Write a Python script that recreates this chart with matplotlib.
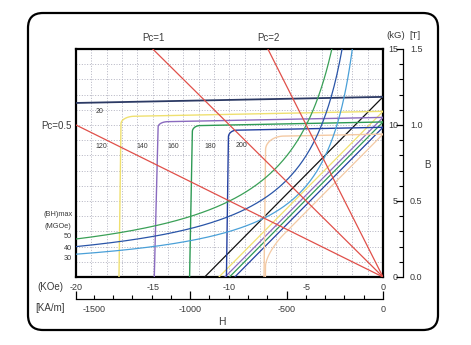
import numpy as np
import matplotlib
matplotlib.use('Agg')
import matplotlib.pyplot as plt
from matplotlib.patches import FancyBboxPatch
from matplotlib.transforms import IdentityTransform, blended_transform_factory
from matplotlib.ticker import MultipleLocator

plt.rcParams['font.family'] = ['Liberation Sans', 'DejaVu Sans']

# ---------------- data ----------------
temp_labels = ['20', '120', '140', '160', '180', '200']
temp_colors = ['#2c3a64', '#efe070', '#8a6bbf', '#2e9a55', '#2440a0', '#f4caa4']
normal_colors = ['#111111', '#efe070', '#8a6bbf', '#2e9a55', '#2440a0', '#f4caa4']
Jr = [11.85, 10.9, 10.5, 10.2, 9.85, 9.4]          # kG at H = 0
Hcj = [-30.0, -17.2, -14.9, -12.6, -10.2, -7.75]   # kOe
knee_tilt = [0.0, 0.13, 0.25, 0.18, 0.13, 0.1]
knee_rH = [0.0, 0.9, 0.65, 0.5, 0.55, 1.2]
knee_rB = [0.0, 0.5, 0.35, 0.4, 0.45, 0.9]
recoil_slope = 0.02
temp_label_pos = [(-18.44, 10.92), (-18.37, 8.6), (-15.7, 8.6),
                  (-13.68, 8.6), (-11.27, 8.6), (-9.19, 8.65)]

bhmax_values = [50, 40, 30]
bhmax_colors = ['#3aa057', '#2a55a8', '#4aa0d8']

pc_values = [0.5, 1, 2]
pc_labels = ['Pc=0.5', 'Pc=1', 'Pc=2']

koe_ticks = [-20, -15, -10, -5, 0]
kam_ticks = [-1500, -1000, -500, 0]
kg_ticks = [0, 5, 10, 15]
tesla_labels = ['0.0', '0.5', '1.0', '1.5']
KAM_PER_KOE = 79.577

W, Hpx = 471, 345
fig = plt.figure(figsize=(W / 100, Hpx / 100), dpi=100)

x0, x1, y0, y1 = 76, 383, 49, 277
ax = fig.add_axes([x0 / W, 1 - y1 / Hpx, (x1 - x0) / W, (y1 - y0) / Hpx])
ax.set_xlim(-20, 0)
ax.set_ylim(0, 15)

txt = '#3a3a3a'

# grid
ax.xaxis.set_minor_locator(MultipleLocator(1))
ax.yaxis.set_minor_locator(MultipleLocator(1))
ax.set_xticks(koe_ticks)
ax.set_xticklabels([str(v) for v in koe_ticks], fontsize=6.5, color=txt)
ax.set_yticks([])
ax.yaxis.set_minor_locator(MultipleLocator(1))
ax.tick_params(which='both', length=0)
ax.tick_params(axis='x', pad=4)
ax.grid(which='both', color='#a8a8b8', linestyle=(0, (1.2, 2.0)), linewidth=0.6)
ax.set_axisbelow(True)
for s in ax.spines.values():
    s.set_linewidth(1.6)
    s.set_color('black')


def intrinsic(jr, hcj, tilt, rh, rb, s):
    if hcj < -20:
        H = np.linspace(-20, 0, 50)
        return H, jr + s * H
    hk = hcj + tilt
    cx = hk + rh
    L = jr + s * cx
    cy = L - rb
    th = np.linspace(np.pi, np.pi / 2, 40)
    Hc = cx + rh * np.cos(th)
    Jc = cy + rb * np.sin(th)
    Hh = np.linspace(cx, 0, 60)[1:]
    Jh = jr + s * Hh
    return np.concatenate([[hcj], Hc, Hh]), np.concatenate([[0], Jc, Jh])


for i in range(len(temp_labels)):
    H, J = intrinsic(Jr[i], Hcj[i], knee_tilt[i], knee_rH[i], knee_rB[i], recoil_slope)
    B = J + H
    ax.plot(H, B, color=normal_colors[i], lw=0.9, zorder=3)
    ax.plot(H, J, color=temp_colors[i], lw=1.3 if i == 0 else 1.0, zorder=3)
    ax.text(temp_label_pos[i][0], temp_label_pos[i][1], temp_labels[i],
            fontsize=5, color=txt, ha='center', va='center', zorder=5)

# (BH)max hyperbolas
for bh, c in zip(bhmax_values, bhmax_colors):
    Hh = np.linspace(-20, -bh / 15.0, 300)
    ax.plot(Hh, bh / (-Hh), color=c, lw=0.9, zorder=3)

# permeance lines
for pc in pc_values:
    Hl = np.array([-20.0, 0.0])
    ax.plot(Hl, -pc * Hl, color='#e0504a', lw=0.9, zorder=4)

# kG labels left of the right spine
spine_x = (403 - x0) / (x1 - x0)
bt = blended_transform_factory(ax.transAxes, ax.transData)
for v in kg_ticks:
    ax.text((398 - x0) / (x1 - x0), v, str(v), transform=bt, fontsize=6.5,
            color=txt, ha='right', va='center')

# right axis (T)
ax2 = ax.twinx()
ax2.set_ylim(0, 15)
for k in ['top', 'bottom', 'left']:
    ax2.spines[k].set_visible(False)
ax2.spines['right'].set_position(('axes', spine_x))
ax2.spines['right'].set_linewidth(0.9)
ax2.set_yticks(kg_ticks)
ax2.set_yticklabels(tesla_labels, fontsize=6.5, color=txt)
ax2.yaxis.set_minor_locator(MultipleLocator(1))
ax2.tick_params(axis='y', which='major', direction='in', length=5, width=0.9, pad=5)
ax2.tick_params(axis='y', which='minor', direction='in', length=3, width=0.8)

# bottom ruler (kA/m)
ruler_y = 299
ax3 = fig.add_axes([x0 / W, 1 - ruler_y / Hpx, (x1 - x0) / W, 0.0001])
ax3.set_xlim(-20 * KAM_PER_KOE, 0)
for k in ['top', 'right', 'left']:
    ax3.spines[k].set_visible(False)
ax3.spines['bottom'].set_linewidth(0.9)
ax3.set_yticks([])
ax3.set_xticks([-20 * KAM_PER_KOE, -1000, -500, 0])
ax3.set_xticklabels([])
ax3.set_xticks(np.arange(-1500, 0, 100), minor=True)
ax3.tick_params(axis='x', which='major', direction='in', length=6, width=0.9)
ax3.tick_params(axis='x', which='minor', direction='in', length=3, width=0.8)
bt3 = blended_transform_factory(ax3.transData, fig.transFigure)
for v in kam_ticks:
    ax3.text(v, 1 - 309 / Hpx, str(v), transform=bt3, fontsize=6.5, color=txt,
             ha='center', va='center')


def ftext(x, y, s, **kw):
    fig.text(x / W, 1 - y / Hpx, s, **kw)


ftext(153, 38, 'Pc=1', fontsize=7, color=txt, ha='center', va='center')
ftext(268, 38, 'Pc=2', fontsize=7, color=txt, ha='center', va='center')
ftext(72, 126, 'Pc=0.5', fontsize=7, color=txt, ha='right', va='center')
ftext(396, 36, '(kG)', fontsize=6.8, color=txt, ha='center', va='center')
ftext(415, 36, '[T]', fontsize=6.8, color=txt, ha='center', va='center')
ftext(427, 165, 'B', fontsize=7, color=txt, ha='center', va='center')
ftext(222, 322, 'H', fontsize=7.5, color=txt, ha='center', va='center')
ftext(50, 287, '(KOe)', fontsize=7, color=txt, ha='center', va='center')
ftext(50, 308, '[KA/m]', fontsize=7, color=txt, ha='center', va='center')
ftext(58, 215, '(BH)max', fontsize=5.3, color=txt, ha='center', va='center')
ftext(58, 227, '(MGOe)', fontsize=5.3, color=txt, ha='center', va='center')
for y, s in zip([237, 248, 259], bhmax_values):
    ftext(72, y, str(s), fontsize=5.3, color=txt, ha='right', va='center')

# rounded frame (pixel coordinates)
frame = FancyBboxPatch((28, Hpx - 330), 410, 317,
                       boxstyle='round,pad=0,rounding_size=15',
                       transform=IdentityTransform(), fill=False,
                       edgecolor='black', linewidth=1.6)
fig.add_artist(frame)

fig.savefig('out.png', dpi=100)
